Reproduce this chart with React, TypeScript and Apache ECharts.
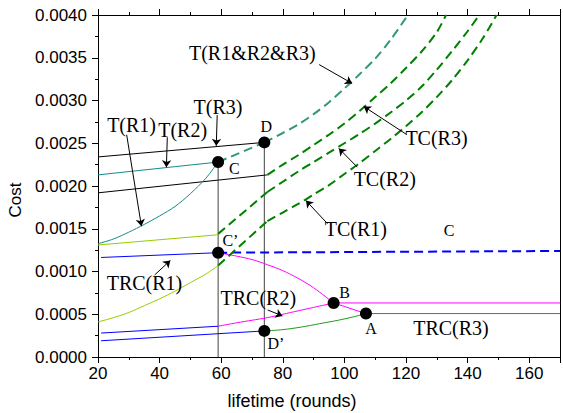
import React, { useEffect, useRef } from 'react';
import * as echarts from 'echarts';

type P = [number, number];

// ---- axis settings ----
const xMin = 20;
const xMax = 170;
const yMin = 0;
const yMax = 0.004;

// ---- series data (lifetime, cost) ----
const tR3: P[] = [[20, 0.00234], [74, 0.00251]];
const tcR3Solid: P[] = [[20, 0.00192], [75, 0.00213]];
const tR2: P[] = [[20, 0.00213], [59, 0.00228]];
const tR1: P[] = [[20, 0.001325], [25, 0.00138], [30, 0.00146], [35, 0.00155], [40, 0.00165], [45, 0.00176], [50, 0.00191], [55, 0.00209], [59, 0.00228]];
const tcR2Solid: P[] = [[20, 0.00131], [59, 0.00143]];
const tcR1Solid: P[] = [[20, 0.00041], [25, 0.00046], [30, 0.00052], [35, 0.0006], [40, 0.00068], [45, 0.00077], [50, 0.00087], [55, 0.00097], [59, 0.00107]];
const trcR1: P[] = [[21, 0.001164], [59, 0.00122]];
const trcR1Dashed: P[] = [[59, 0.00122], [170, 0.00124]];
const trcR2Blue: P[] = [[21, 0.00028], [59, 0.00036]];
const trcR3Blue: P[] = [[21, 0.00019], [74, 0.000305]];
const trcR2Rise: P[] = [[59, 0.00036], [65, 0.0004], [70, 0.00043], [75, 0.00046], [80, 0.0005], [85, 0.00054], [90, 0.00058], [96.5, 0.000632]];
const trcFall: P[] = [[59, 0.00122], [65, 0.00118], [70, 0.00114], [75, 0.00108], [80, 0.00101], [85, 0.00092], [90, 0.00081], [96.5, 0.000632]];
const trcFallTail: P[] = [[96.5, 0.000632], [107, 0.000508]];
const trcR2Flat: P[] = [[96.5, 0.000632], [170, 0.000632]];
const trcR3Rise: P[] = [[74, 0.000305], [80, 0.00032], [86, 0.00035], [92, 0.00039], [98, 0.00043], [103, 0.00047], [107, 0.000508]];
const trcR3Flat: P[] = [[107, 0.000508], [170, 0.000508]];
const tAllStart: P[] = [[59, 0.00228], [74, 0.00251]];
const tAll: P[] = [[74, 0.00251], [80, 0.00262], [85, 0.00272], [90, 0.00284], [95, 0.00298], [100, 0.00314], [105, 0.00331], [110, 0.00349], [115, 0.00371], [120.6, 0.004]];
const tcR3: P[] = [[75, 0.00213], [80, 0.00225], [85, 0.00236], [90, 0.00248], [95, 0.0026], [100, 0.00273], [105, 0.00288], [110, 0.00304], [115, 0.0032], [120, 0.00338], [125, 0.00357], [130, 0.0038], [133, 0.004]];
const tcR2Start: P[] = [[59, 0.00144], [75, 0.00193]];
const tcR2: P[] = [[75, 0.00193], [80, 0.00205], [85, 0.00217], [90, 0.00228], [95, 0.00239], [100, 0.0025], [105, 0.00261], [110, 0.00273], [115, 0.00286], [120, 0.003], [125, 0.00316], [130, 0.00336], [135, 0.00358], [140, 0.00381], [143.8, 0.004]];
const tcR1Start: P[] = [[59, 0.00107], [75, 0.00159]];
const tcR1: P[] = [[75, 0.00159], [80, 0.00169], [85, 0.00179], [90, 0.0019], [95, 0.00201], [100, 0.00214], [105, 0.00227], [110, 0.00241], [115, 0.00255], [120, 0.0027], [125, 0.00286], [130, 0.00304], [135, 0.00324], [140, 0.00347], [145, 0.00373], [149.4, 0.004]];
const vLineC: P[] = [[59, 0], [59, 0.00228]];
const vLineD: P[] = [[74, 0], [74, 0.00251]];
// C, D, C', D', B, A
const keyPoints: P[] = [[59, 0.00228], [74, 0.00251], [59, 0.00122], [74, 0.000305], [96.5, 0.000632], [107, 0.000508]];

// ---- annotation arrows (from label to curve, data coords) ----
const arrows: [P, P][] = [
  [[91.8, 0.00342], [102.5, 0.0032]],
  [[120.3, 0.0026], [106.3, 0.00293]],
  [[104.2, 0.00222], [98.2, 0.00244]],
  [[94.5, 0.00156], [87.5, 0.00183]],
  [[58.7, 0.00283], [58.4, 0.00247]],
  [[42.5, 0.00257], [42.2, 0.00222]],
  [[29.3, 0.0026], [34.1, 0.00153]],
  [[38.4, 0.00096], [43.5, 0.00113]],
  [[75.1, 0.00055], [79.9, 0.00048]],
];

// ---- annotation labels ----
const labelTexts = ['T(R1&R2&R3)', 'T(R3)', 'T(R1)', 'T(R2)', 'D', 'C', 'C\u2019', 'TRC(R1)', 'TRC(R2)', 'D\u2019', 'B', 'A', 'TRC(R3)', 'C', 'TC(R3)', 'TC(R2)', 'TC(R1)'];
const labelAt: P[] = [[70.1, 0.003555], [58.96, 0.002923], [30.9, 0.002713], [47.48, 0.002655], [74.64, 0.002701], [64.29, 0.002206], [63.0, 0.001366], [35.1, 0.000863], [72.05, 0.000687], [77.77, 0.000157], [100.08, 0.000754], [108.68, 0.000332], [134.6, 0.000344], [134.0, 0.001475], [129.9, 0.002557], [113.1, 0.002077], [103.7, 0.001492]];

const BLACK = '#000000';
const TEAL = '#148b8b';
const YGREEN = '#99cc00';
const BLUE = '#0000ff';
const MAGENTA = '#ff00ff';
const GREEN = '#008000';
const THINGREEN = '#1f9a1f';
const SEAGREEN = '#339970';

function line(data: P[], color: string, width = 1, dashed = false, smooth = false, z = 3) {
  return {
    type: 'line',
    data,
    symbol: 'none',
    smooth: smooth ? 0.3 : false,
    silent: true,
    z,
    lineStyle: { color, width, type: dashed ? [9, 5] : 'solid' },
  };
}

const sansFont = '"Liberation Sans", Arial, sans-serif';
const serifFont = '"Liberation Serif", "Times New Roman", serif';

function xAxisDef(position: 'top' | 'bottom', interval: number, tickLen: number, withLine: boolean, withLabels: boolean) {
  return {
    type: 'value',
    position,
    min: xMin,
    max: xMax,
    interval,
    axisLine: { show: withLine, onZero: false, lineStyle: { color: BLACK, width: 1 } },
    axisTick: { show: true, length: tickLen, lineStyle: { color: BLACK, width: 1 } },
    splitLine: { show: false },
    axisLabel: withLabels
      ? {
          show: true,
          color: BLACK,
          fontSize: 17,
          fontFamily: sansFont,
          margin: 8,
          formatter: (v: number) => (Math.round(v) % 20 === 0 && v <= 160 ? String(Math.round(v)) : ''),
        }
      : { show: false },
  };
}

export default function App() {
  const ref = useRef<HTMLDivElement>(null);
  useEffect(() => {
    document.body.style.margin = '0';
    const chart = echarts.init(ref.current!, null, { renderer: 'svg' });
    const option: any = {
      animation: false,
      backgroundColor: '#ffffff',
      grid: { left: 98, right: 1, top: 15, bottom: 56, containLabel: false },
      xAxis: [
        xAxisDef('bottom', 20, 6, true, true),
        xAxisDef('bottom', 10, 3, false, false),
        xAxisDef('top', 20, 6, true, false),
        xAxisDef('top', 10, 3, false, false),
      ],
      yAxis: [
        {
          type: 'value',
          position: 'left',
          min: yMin,
          max: yMax,
          interval: 0.0005,
          axisLine: { show: true, onZero: false, lineStyle: { color: BLACK, width: 1 } },
          axisTick: { show: true, length: 6, lineStyle: { color: BLACK } },
          minorTick: { show: true, splitNumber: 2, length: 3, lineStyle: { color: BLACK } },
          splitLine: { show: false },
          minorSplitLine: { show: false },
          axisLabel: {
            color: BLACK,
            fontSize: 17,
            fontFamily: sansFont,
            margin: 11,
            formatter: (v: number) => v.toFixed(4),
          },
        },
        {
          type: 'value',
          position: 'right',
          min: yMin,
          max: yMax,
          interval: 0.0005,
          axisLine: { show: true, onZero: false, lineStyle: { color: BLACK, width: 1 } },
          axisTick: { show: false },
          splitLine: { show: false },
          axisLabel: { show: false },
        },
      ],
      series: [
        line(vLineC, '#444444', 1, false, false, 1),
        line(vLineD, '#444444', 1, false, false, 1),
        line(tR3, BLACK),
        line(tcR3Solid, BLACK),
        line(tR2, TEAL),
        line(tR1, TEAL, 1, false, true),
        line(tcR2Solid, YGREEN),
        line(tcR1Solid, YGREEN, 1, false, true),
        line(trcR1, BLUE),
        line(trcR2Blue, BLUE),
        line(trcR3Blue, BLUE),
        line(trcR2Rise, MAGENTA, 1, false, true),
        line(trcFall, MAGENTA, 1, false, true),
        line(trcFallTail, MAGENTA),
        line(trcR2Flat, MAGENTA),
        line(trcR3Rise, THINGREEN, 1, false, true),
        line(trcR3Flat, THINGREEN),
        line(trcR1Dashed, BLUE, 2, true),
        line(tAllStart, SEAGREEN, 2, true),
        line(tAll, SEAGREEN, 2, true, true),
        line(tcR3, GREEN, 2, true, true),
        line(tcR2Start, GREEN, 2, true),
        line(tcR2, GREEN, 2, true, true),
        line(tcR1Start, GREEN, 2, true),
        line(tcR1, GREEN, 2, true, true),
        {
          type: 'lines',
          coordinateSystem: 'cartesian2d',
          xAxisIndex: 0,
          yAxisIndex: 0,
          silent: true,
          z: 6,
          symbol: ['none', 'arrow'],
          symbolSize: 7,
          itemStyle: { color: BLACK },
          lineStyle: { color: BLACK, width: 1, opacity: 1, curveness: 0 },
          data: arrows.map((c) => ({ coords: c })),
        },
        {
          type: 'scatter',
          data: keyPoints,
          symbol: 'circle',
          symbolSize: 12,
          silent: true,
          z: 10,
          itemStyle: { color: BLACK, opacity: 1 },
        },
      ],
    };
    chart.setOption(option);

    const texts: any[] = labelTexts.map((t, i) => {
      const [px, py] = chart.convertToPixel({ xAxisIndex: 0, yAxisIndex: 0 }, labelAt[i]) as number[];
      const size = t.length <= 2 ? 16 : 20;
      return {
        type: 'text',
        x: px,
        y: py,
        z: 20,
        silent: true,
        style: { text: t, fill: BLACK, font: `${size}px ${serifFont}`, align: 'center', verticalAlign: 'middle' },
      };
    });
    texts.push({
      type: 'text',
      x: 15,
      y: 200,
      rotation: Math.PI / 2,
      silent: true,
      style: { text: 'Cost', fill: BLACK, font: `17px ${sansFont}`, align: 'center', verticalAlign: 'middle' },
    });
    texts.push({
      type: 'text',
      x: 292,
      y: 401,
      silent: true,
      style: { text: 'lifetime (rounds)', fill: BLACK, font: `18px ${sansFont}`, align: 'center', verticalAlign: 'middle' },
    });
    chart.setOption({ graphic: { elements: texts } });

    return () => chart.dispose();
  }, []);
  return <div ref={ref} style={{ width: 563, height: 413, position: 'absolute', left: 0, top: 0 }} />;
}
